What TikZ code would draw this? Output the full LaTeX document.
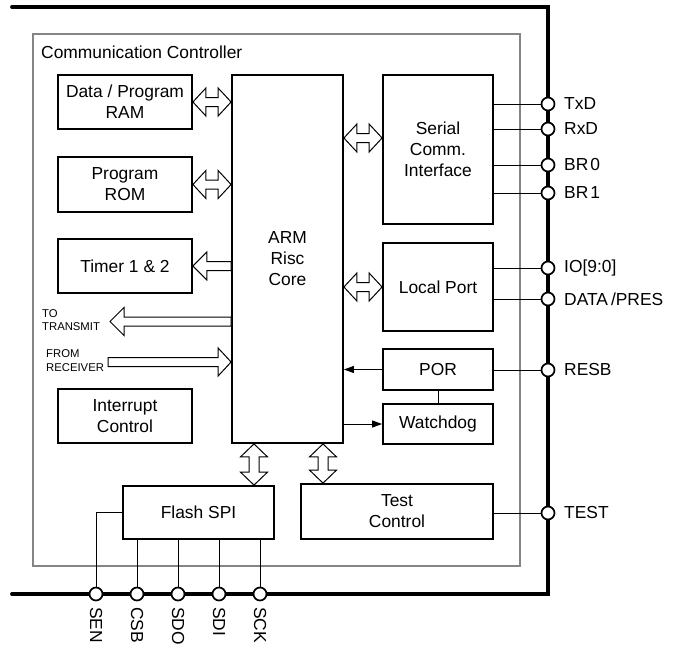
\documentclass[tikz,border=0pt]{standalone}
\usepackage{fontspec}
\setmainfont{Liberation Sans}
\usetikzlibrary{calc,arrows.meta}
\tikzset{
  box/.style={draw, line width=1.8pt, fill=white, align=center, inner sep=2pt,
    font=\fontsize{17.4}{21}\selectfont},
  barrow/.style={draw, line width=1pt, fill=white, line join=miter},
  pinc/.style={circle, draw, line width=1.7pt, fill=white, minimum size=13pt, inner sep=0pt},
  pinlbl/.style={anchor=west, inner sep=0pt, font=\fontsize{17.4}{21}\selectfont},
  botlbl/.style={anchor=west, rotate=-90, inner sep=0pt, font=\fontsize{17.4}{21}\selectfont},
  wire/.style={line width=1pt},
  small/.style={anchor=west, align=left, inner sep=0pt, font=\fontsize{11.3}{13}\selectfont},
}
% horizontal double block arrow between #1 (left) and #2 (right)
\newcommand\DArrowH[2]{%
 \draw[barrow] let \p1=#1, \p2=#2 in
  (\x1,\y1) -- (\x1+13pt,\y1+14pt) -- (\x1+13pt,\y1+4.5pt) -- (\x2-13pt,\y1+4.5pt)
  -- (\x2-13pt,\y1+14pt) -- (\x2,\y1) -- (\x2-13pt,\y1-14pt) -- (\x2-13pt,\y1-4.5pt)
  -- (\x1+13pt,\y1-4.5pt) -- (\x1+13pt,\y1-14pt) -- cycle;}
% vertical double block arrow between #1 (top) and #2 (bottom)
\newcommand\DArrowV[2]{%
 \draw[barrow] let \p1=#1, \p2=#2 in
  (\x1,\y1) -- (\x1+13.5pt,\y1-13pt) -- (\x1+5pt,\y1-13pt) -- (\x1+5pt,\y2+13pt)
  -- (\x1+13.5pt,\y2+13pt) -- (\x1,\y2) -- (\x1-13.5pt,\y2+13pt) -- (\x1-5pt,\y2+13pt)
  -- (\x1-5pt,\y1-13pt) -- (\x1-13.5pt,\y1-13pt) -- cycle;}
% left-pointing block arrow: tip #1, tail #2
\newcommand\ArrowL[2]{%
 \draw[barrow] let \p1=#1, \p2=#2 in
  (\x1,\y1) -- (\x1+14pt,\y1+14pt) -- (\x1+14pt,\y1+4.5pt) -- (\x2,\y1+4.5pt)
  -- (\x2,\y1-4.5pt) -- (\x1+14pt,\y1-4.5pt) -- (\x1+14pt,\y1-14pt) -- cycle;}
% right-pointing block arrow: tail #1, tip #2
\newcommand\ArrowR[2]{%
 \draw[barrow] let \p1=#1, \p2=#2 in
  (\x2,\y1) -- (\x2-13pt,\y1+14pt) -- (\x2-13pt,\y1+4.5pt) -- (\x1,\y1+4.5pt)
  -- (\x1,\y1-4.5pt) -- (\x2-13pt,\y1-4.5pt) -- (\x2-13pt,\y1-14pt) -- cycle;}
\begin{document}
\begin{tikzpicture}[x=1pt,y=-1pt]
\useasboundingbox (0,0) rectangle (675,651);
\fill[white] (0,0) rectangle (675,651);

% outer chip border
\draw[line width=3.8pt, line cap=round, line join=miter] (12,7) -- (548,7) -- (548,594) -- (12,594);
% communication controller frame
\draw[line width=1.8pt, draw=black!48] (33,34) rectangle (520,566);
\node[anchor=west, inner sep=0pt, font=\fontsize{17.4}{21}\selectfont] (cctitle) at (41,52) {Communication Controller};

% blocks
\node[box, minimum width=134pt, minimum height=54pt] (ram) at (125,102) {Data / Program\\RAM};
\node[box, minimum width=134pt, minimum height=55pt] (rom) at (125,184.5) {Program\\ROM};
\node[box, minimum width=134pt, minimum height=54pt] (timer) at (125,266) {Timer 1 \& 2};
\node[box, minimum width=134pt, minimum height=54pt] (intr) at (125,416) {Interrupt\\Control};
\node[box, minimum width=111pt, minimum height=368pt] (arm) at (287.5,259) {ARM\\Risc\\Core};
\node[box, minimum width=110pt, minimum height=149pt] (serial) at (438,149.5) {Serial\\Comm.\\Interface};
\node[box, minimum width=110pt, minimum height=88pt] (local) at (438,287) {Local Port};
\node[box, minimum width=110pt, minimum height=41pt] (por) at (438,369.5) {POR};
\node[box, minimum width=110pt, minimum height=40pt] (wdog) at (438,424) {Watchdog};
\node[box, minimum width=151pt, minimum height=53pt] (flash) at (198.5,512.5) {Flash SPI};
\node[box, minimum width=192pt, minimum height=55pt] (test) at (397,511.5) {Test\\Control};

% block arrows
\DArrowH{(ram.east)}{(arm.west |- ram.east)}
\DArrowH{(rom.east)}{(arm.west |- rom.east)}
\ArrowL{(timer.east)}{(arm.west |- timer.east)}
\coordinate (sa) at (383,138);
\DArrowH{(arm.east |- sa)}{(serial.west |- sa)}
\DArrowH{(arm.east |- local.west)}{(local.west)}
\coordinate (vx1) at (254,0);
\coordinate (vx2) at (323,0);
\DArrowV{(vx1 |- arm.south)}{(vx1 |- flash.north)}
\DArrowV{(vx2 |- arm.south)}{(vx2 |- test.north)}

% transmit / receive
\coordinate (txtip) at (110,321.5);
\coordinate (rxtail) at (108,362);
\ArrowL{(txtip)}{(arm.west |- txtip)}
\ArrowR{(rxtail)}{(arm.west |- rxtail)}
\node[small] (tolbl) at (42,320) {TO\\TRANSMIT};
\node[small] (fromlbl) at (46,360.5) {FROM\\[1.5pt]RECEIVER};

% POR / watchdog
\draw[wire, -{Triangle[length=10pt,width=7pt]}] (por.west) -- (arm.east |- por.west);
\draw[wire, -{Triangle[length=10pt,width=7pt]}] (arm.east |- wdog.west) -- (wdog.west);
\draw[wire] (por.south) -- (wdog.north);

% right-hand pins
\foreach \nm/\yy in {txd/104, rxd/129, brz/165, bro/193, io/268, dp/299, resb/370, tst/513}
  \coordinate (c\nm) at (548,\yy);
\draw[wire] (serial.east |- ctxd) -- (ctxd);
\draw[wire] (serial.east |- crxd) -- (crxd);
\draw[wire] (serial.east |- cbrz) -- (cbrz);
\draw[wire] (serial.east |- cbro) -- (cbro);
\draw[wire] (local.east |- cio) -- (cio);
\draw[wire] (local.east |- cdp) -- (cdp);
\draw[wire] (por.east |- cresb) -- (cresb);
\draw[wire] (test.east |- ctst) -- (ctst);
\foreach \nm/\txt in {txd/TxD, rxd/RxD, brz/{BR\kern2pt 0}, bro/{BR\kern2pt 1}, io/{IO[9:0]}, dp/{DATA\kern3pt/PRES}, resb/RESB, tst/TEST}{
  \node[pinc] (p\nm) at (c\nm) {};
  \node[pinlbl] (l\nm) at ($(c\nm)+(16,0)$) {\txt};
}

% bottom pins
\foreach \nm/\xx in {sen/96, csb/137, sdo/178, sdi/219, sck/260}
  \coordinate (c\nm) at (\xx,594);
\draw[wire] (flash.west |- 0,512) -| (csen);
\draw[wire] (flash.south -| ccsb) -- (ccsb);
\draw[wire] (flash.south -| csdo) -- (csdo);
\draw[wire] (flash.south -| csdi) -- (csdi);
\draw[wire] (flash.south -| csck) -- (csck);
\foreach \nm/\txt in {sen/SEN, csb/CSB, sdo/SDO, sdi/SDI, sck/SCK}{
  \node[pinc] (p\nm) at (c\nm) {};
  \node[botlbl] (l\nm) at ($(c\nm)+(0,13)$) {\txt};
}
\end{tikzpicture}
\end{document}
